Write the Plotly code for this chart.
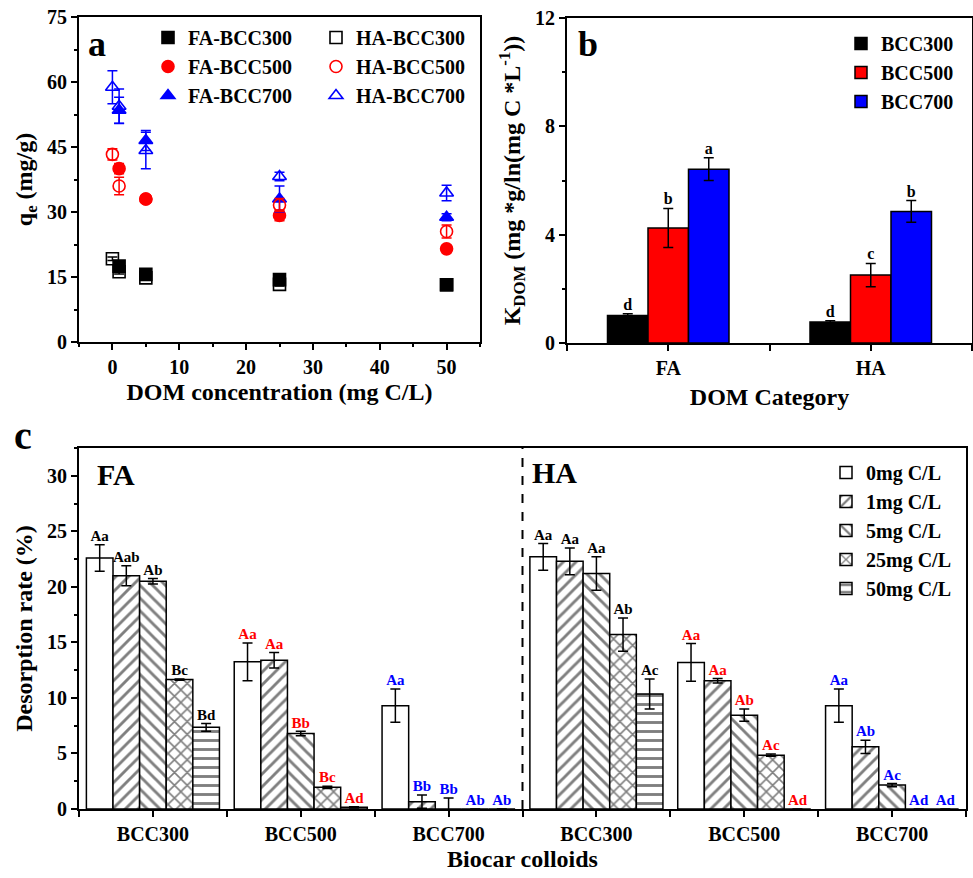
import plotly.graph_objects as go

# ---------------- Panel a data ----------------
conc = [0, 1, 5, 25, 50]
fa_bcc300 = [None, 17.5, 15.6, 14.4, 13.2]
fa_bcc300_err = [0, 0.5, 0.5, 0.5, 0.3]
ha_bcc300 = [19.2, 16.2, 14.8, 13.3, 13.2]
ha_bcc300_err = [0.4, 0.5, 0.4, 0.4, 0.3]
fa_bcc500 = [None, 40.0, 33.0, 29.2, 21.5]
fa_bcc500_err = [0, 1.2, 0.5, 1.2, 0.5]
ha_bcc500 = [43.3, 36.0, 33.0, 31.6, 25.5]
ha_bcc500_err = [1.3, 2.0, 0.6, 1.5, 1.5]
fa_bcc700 = [None, 53.5, 46.5, 33.0, 28.8]
fa_bcc700_err = [0, 3.0, 2.3, 3.0, 0.8]
ha_bcc700 = [58.8, 54.4, 44.2, 38.2, 34.4]
ha_bcc700_err = [3.8, 4.0, 4.2, 1.0, 1.8]

# ---------------- Panel b data ----------------
dom_categories = ["FA", "HA"]
k_bcc300 = [1.02, 0.78]
k_bcc300_err = [0.06, 0.04]
k_bcc500 = [4.25, 2.51]
k_bcc500_err = [0.72, 0.43]
k_bcc700 = [6.42, 4.86]
k_bcc700_err = [0.42, 0.40]
k_letters_300 = ["d", "d"]
k_letters_500 = ["b", "c"]
k_letters_700 = ["a", "b"]

# ---------------- Panel c data ----------------
colloids = ["BCC300", "BCC500", "BCC700"]
# order: FA-BCC300, FA-BCC500, FA-BCC700, HA-BCC300, HA-BCC500, HA-BCC700
des_0mg = [22.6, 13.25, 9.3, 22.7, 13.2, 9.3]
des_0mg_err = [1.2, 1.7, 1.5, 1.2, 1.7, 1.5]
des_1mg = [21.0, 13.4, 0.66, 22.3, 11.55, 5.6]
des_1mg_err = [0.9, 0.7, 0.6, 1.2, 0.2, 0.6]
des_5mg = [20.5, 6.8, 0.0, 21.2, 8.45, 2.15]
des_5mg_err = [0.25, 0.2, 1.0, 1.5, 0.55, 0.15]
des_25mg = [11.65, 1.95, 0.0, 15.7, 4.85, 0.0]
des_25mg_err = [0.05, 0.1, 0.0, 1.5, 0.1, 0.0]
des_50mg = [7.35, 0.15, 0.0, 10.35, 0.0, 0.0]
des_50mg_err = [0.35, 0.05, 0.0, 1.35, 0.0, 0.0]
let_0mg = ["Aa", "Aa", "Aa", "Aa", "Aa", "Aa"]
let_1mg = ["Aab", "Aa", "Bb", "Aa", "Aa", "Ab"]
let_5mg = ["Ab", "Bb", "Bb", "Aa", "Ab", "Ac"]
let_25mg = ["Bc", "Bc", "Ab", "Ab", "Ac", "Ad"]
let_50mg = ["Bd", "Ad", "Ab", "Ac", "Ad", "Ad"]
dom_levels = ["0mg C/L", "1mg C/L", "5mg C/L", "25mg C/L", "50mg C/L"]

FONT = "Liberation Serif"
W, H = 973, 878

fig = go.Figure()

# ---------- Panel a ----------
series_a = [
    ("FA-BCC300", fa_bcc300, fa_bcc300_err, "square", "black", "legend"),
    ("FA-BCC500", fa_bcc500, fa_bcc500_err, "circle", "#ff0000", "legend"),
    ("FA-BCC700", fa_bcc700, fa_bcc700_err, "triangle-up", "#0000ff", "legend"),
    ("HA-BCC300", ha_bcc300, ha_bcc300_err, "square-open", "black", "legend2"),
    ("HA-BCC500", ha_bcc500, ha_bcc500_err, "circle-open", "#ff0000", "legend2"),
    ("HA-BCC700", ha_bcc700, ha_bcc700_err, "triangle-up-open", "#0000ff", "legend2"),
]
for name, y, e, sym, col, lg in series_a:
    fig.add_trace(go.Scatter(
        x=conc, y=y, name=name, mode="markers", legend=lg,
        marker=dict(symbol=sym, size=12, color=col, line=dict(color=col, width=1.6)),
        error_y=dict(type="data", array=e, color=col, thickness=1.5, width=5),
        xaxis="x", yaxis="y",
    ))

# ---------- Panel b ----------
bw_b = 0.2
series_b = [
    ("BCC300", k_bcc300, k_bcc300_err, k_letters_300, "black", -0.3),
    ("BCC500", k_bcc500, k_bcc500_err, k_letters_500, "#ff0000", -0.1),
    ("BCC700", k_bcc700, k_bcc700_err, k_letters_700, "#0000ff", 0.1),
]
xb = [1, 2]
for name, y, e, lets, col, off in series_b:
    fig.add_trace(go.Bar(
        x=xb, y=y, name=name, legend="legend3", width=bw_b, offset=off,
        marker=dict(color=col, line=dict(color="black", width=1.5)),
        error_y=dict(type="data", array=e, color="black", thickness=1.5, width=5),
        xaxis="x2", yaxis="y2",
    ))
    fig.add_trace(go.Scatter(
        x=[xi + off + bw_b / 2 for xi in xb], y=[v + er for v, er in zip(y, e)],
        mode="text", text=lets, textposition="top center",
        textfont=dict(size=16, color="black", family=FONT, weight="bold"),
        showlegend=False, xaxis="x2", yaxis="y2", hoverinfo="skip",
    ))

# ---------- Panel c ----------
xc = [1, 2, 3, 4, 5, 6]
bw_c = 0.18
label_colors = ["black", "#ff0000", "#0000ff", "black", "#ff0000", "#0000ff"]
series_c = [
    (dom_levels[0], des_0mg, des_0mg_err, let_0mg, "", -0.45),
    (dom_levels[1], des_1mg, des_1mg_err, let_1mg, "/", -0.27),
    (dom_levels[2], des_5mg, des_5mg_err, let_5mg, "\\", -0.09),
    (dom_levels[3], des_25mg, des_25mg_err, let_25mg, "x", 0.09),
    (dom_levels[4], des_50mg, des_50mg_err, let_50mg, "-", 0.27),
]
for name, y, e, lets, pat, off in series_c:
    fig.add_trace(go.Bar(
        x=xc, y=y, name=name, legend="legend4", width=bw_c, offset=off,
        marker=dict(color="white", line=dict(color="black", width=1.5),
                    pattern=dict(shape=pat, fgcolor="black", bgcolor="white",
                                 size=9, solidity=0.32, fillmode="overlay")),
        error_y=dict(type="data", array=e, color="black", thickness=1.5, width=5),
        xaxis="x3", yaxis="y3",
    ))
    fig.add_trace(go.Scatter(
        x=[xi + off + bw_c / 2 for xi in xc], y=[v + er for v, er in zip(y, e)],
        mode="text", text=lets, textposition="top center",
        textfont=dict(size=15, color=label_colors, family=FONT, weight="bold"),
        showlegend=False, xaxis="x3", yaxis="y3", hoverinfo="skip", cliponaxis=False,
    ))

def px_x(p):
    return p / W

def px_y(p):
    return 1 - p / H

axis_common = dict(
    showline=True, linewidth=2, linecolor="black", mirror=True,
    ticks="outside", ticklen=6, tickwidth=2, tickcolor="black",
    showgrid=False, zeroline=False, automargin=False,
    tickfont=dict(size=20, family=FONT, color="black", weight="bold"),
)
title_font = dict(size=24, family=FONT, color="black", weight="bold")
minor_common = dict(ticks="outside", ticklen=3, tickwidth=1.5, tickcolor="black", showgrid=False)

fig.update_layout(
    width=W, height=H,
    margin=dict(l=0, r=0, t=0, b=0),
    paper_bgcolor="white", plot_bgcolor="white",
    font=dict(family=FONT, color="black", size=20, weight="bold"),
    barmode="overlay",
    showlegend=True,
    xaxis=dict(axis_common, domain=[px_x(79), px_x(480)], range=[-5, 55], dtick=10,
               minor=dict(minor_common, dtick=5),
               title=dict(text="DOM concentration (mg C/L)", font=title_font, standoff=6),
               anchor="y"),
    yaxis=dict(axis_common, domain=[px_y(342), px_y(17)], range=[0, 75], dtick=15,
               minor=dict(minor_common, dtick=7.5),
               title=dict(text="q<sub>e</sub> (mg/g)", font=title_font, standoff=8),
               anchor="x"),
    xaxis2=dict(axis_common, domain=[px_x(567), px_x(972)], range=[0.5, 2.5],
                tickvals=xb, ticktext=dom_categories,
                minor=dict(minor_common, dtick=0.5, ticklen=6, tickwidth=2),
                title=dict(text="DOM Category", font=title_font, standoff=10),
                anchor="y2"),
    yaxis2=dict(axis_common, domain=[px_y(343), px_y(18)], range=[0, 12], dtick=4,
                minor=dict(minor_common, dtick=2),
                title=dict(text="K<sub>DOM</sub> (mg *g/ln(mg C *L<sup>-1</sup>))", font=title_font, standoff=8),
                anchor="x2"),
    xaxis3=dict(axis_common, domain=[px_x(79), px_x(966)], range=[0.5, 6.5],
                tickvals=xc, ticktext=colloids + colloids,
                minor=dict(minor_common, dtick=0.5, ticklen=6, tickwidth=2),
                title=dict(text="Biocar colloids", font=title_font, standoff=6),
                anchor="y3"),
    yaxis3=dict(axis_common, domain=[px_y(809), px_y(448)], range=[0, 32.5], dtick=5,
                minor=dict(minor_common, dtick=2.5),
                title=dict(text="Desorption rate (%)", font=title_font, standoff=8),
                anchor="x3"),
    legend=dict(x=px_x(148), y=px_y(18), xanchor="left", yanchor="top",
                bgcolor="rgba(0,0,0,0)", font=dict(size=20, family=FONT, weight="bold"),
                tracegroupgap=0),
    legend2=dict(x=px_x(316), y=px_y(18), xanchor="left", yanchor="top",
                 bgcolor="rgba(0,0,0,0)", font=dict(size=20, family=FONT, weight="bold"),
                 tracegroupgap=0),
    legend3=dict(x=px_x(841), y=px_y(24), xanchor="left", yanchor="top",
                 bgcolor="rgba(0,0,0,0)", font=dict(size=20, family=FONT, weight="bold"),
                 tracegroupgap=0),
    legend4=dict(x=px_x(826), y=px_y(453), xanchor="left", yanchor="top",
                 bgcolor="rgba(0,0,0,0)", font=dict(size=20, family=FONT, weight="bold"),
                 tracegroupgap=0),
    shapes=[dict(type="line", xref="x3", yref="y3 domain", x0=3.5, x1=3.5, y0=0, y1=1,
                 line=dict(color="black", width=2, dash="dash"))],
    annotations=[
        dict(text="a", x=px_x(86), y=px_y(44), xref="paper", yref="paper",
             xanchor="left", yanchor="middle", showarrow=False,
             font=dict(size=36, family=FONT, weight="bold", color="black")),
        dict(text="b", x=px_x(576), y=px_y(44), xref="paper", yref="paper",
             xanchor="left", yanchor="middle", showarrow=False,
             font=dict(size=36, family=FONT, weight="bold", color="black")),
        dict(text="c", x=px_x(12), y=px_y(436), xref="paper", yref="paper",
             xanchor="left", yanchor="middle", showarrow=False,
             font=dict(size=40, family=FONT, weight="bold", color="black")),
        dict(text="FA", x=px_x(95), y=px_y(475), xref="paper", yref="paper",
             xanchor="left", yanchor="middle", showarrow=False,
             font=dict(size=30, family=FONT, weight="bold", color="black")),
        dict(text="HA", x=px_x(530), y=px_y(472), xref="paper", yref="paper",
             xanchor="left", yanchor="middle", showarrow=False,
             font=dict(size=30, family=FONT, weight="bold", color="black")),
    ],
)

fig.write_html("out.html", config={"displayModeBar": False},
               post_script="document.body.style.margin='0px';document.body.style.overflow='hidden';")
